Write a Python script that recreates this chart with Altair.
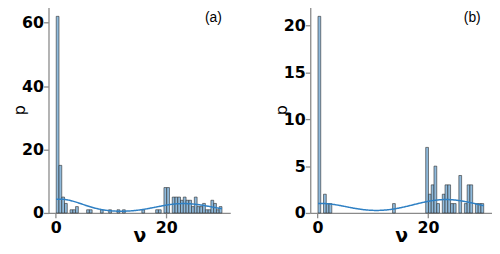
import altair as alt
import numpy as np
import pandas as pd

# histogram bins: start = bin_origin + k * bin_width
bin_width = 0.5
bin_origin = 0.1

# panel (a)
a_bins = [0, 1, 2, 3, 5, 6, 7, 11, 12, 16, 19, 22, 24, 31, 36, 37,
          39, 40, 42, 43, 44, 45, 46, 47, 48, 49, 50, 51, 52, 53, 54, 55, 56, 57, 58, 59]
a_counts = [62, 15, 5, 3, 1, 1, 2, 1, 1, 1, 1, 1, 1, 1, 1, 1,
            8, 8, 5, 5, 5, 4, 5, 4, 4, 2, 5, 2, 2, 3, 1, 1, 4, 3, 1, 2]

# panel (b)
b_bins = [0, 2, 3, 4, 27,
          39, 40, 41, 42, 43, 45, 46, 47, 48, 49, 51, 53, 54, 55, 57, 58, 59]
b_counts = [21, 2, 1, 1, 1,
            7, 2, 3, 5, 1, 2, 3, 3, 1, 1, 4, 1, 3, 3, 1, 1, 1]

x_ticks = [0, 20]
a_y_ticks = [0, 20, 40, 60]
b_y_ticks = [0, 5, 10, 15, 20]
panel_labels = ["(a)", "(b)"]

x_domain = [-1.3, 31.6]
a_y_max = 65.1
b_y_max = 22.05

W = 184
H = 209


def panel(bins, counts, y_max, y_ticks, label, label_dx):
    start = [bin_origin + k * bin_width for k in bins]
    end = [s + bin_width for s in start]
    df = pd.DataFrame({"start": start, "end": end, "count": counts})
    values = np.repeat([s + bin_width / 2 for s in start], counts)
    bw = float(values.std(ddof=1) * len(values) ** -0.2)
    raw = pd.DataFrame({"v": values})

    xscale = alt.Scale(domain=x_domain, nice=False, zero=False)
    yscale = alt.Scale(domain=[0, y_max], nice=False)
    xaxis = alt.Axis(values=x_ticks, title="ν", titleFontWeight="bold",
                     titleY=14, titleFontSize=19, labelPadding=2)
    yaxis = alt.Axis(values=y_ticks, title="p", titleFontWeight="normal",
                     labelPadding=0, titleFontSize=16, titlePadding=-6)

    bars = alt.Chart(df).mark_bar(
        fill="#8fbadc", stroke="#2b2b2b", strokeWidth=0.6
    ).encode(
        x=alt.X("start:Q", scale=xscale, axis=xaxis),
        x2="end:Q",
        y=alt.Y("count:Q", scale=yscale, axis=yaxis),
        y2=alt.datum(0),
    )

    kde = alt.Chart(raw).transform_density(
        "v", as_=["v", "density"], bandwidth=bw,
        extent=[min(start), max(end)], counts=True, steps=200
    ).transform_calculate(
        y=f"datum.density * {bin_width}"
    ).mark_line(color="#2f80c4", strokeWidth=1.5).encode(
        x=alt.X("v:Q", scale=xscale),
        y=alt.Y("y:Q", scale=yscale),
    )

    txt = alt.Chart(pd.DataFrame({"label": [label]})).mark_text(
        font="Liberation Sans", fontSize=14, color="black", align="center", baseline="middle"
    ).encode(
        x=alt.value(W - label_dx), y=alt.value(12), text="label:N"
    )

    return alt.layer(bars, kde, txt).properties(width=W, height=H)


chart = alt.hconcat(
    panel(a_bins, a_counts, a_y_max, a_y_ticks, panel_labels[0], 17),
    panel(b_bins, b_counts, b_y_max, b_y_ticks, panel_labels[1], 20),
    spacing=43,
).properties(
    padding={"left": 3, "top": -3, "right": 0, "bottom": 0}
).configure_view(stroke=None).configure_axis(
    grid=False,
    labelFont="DejaVu Sans",
    labelFontSize=16,
    labelFontWeight="bold",
    labelColor="black",
    domainColor="#8a8a8a",
    domainWidth=1.3,
    tickColor="#8a8a8a",
    tickWidth=1.3,
    tickSize=5,
    titleFont="DejaVu Sans",
    titleFontSize=17,
    titleColor="black",
    titlePadding=0,
)

chart.save("out.html", embed_options={"renderer": "svg", "actions": False})
